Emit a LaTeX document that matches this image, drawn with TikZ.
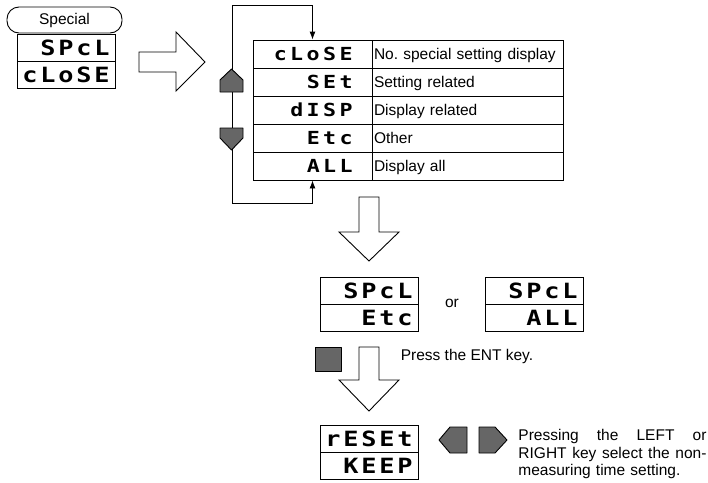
\documentclass[tikz,border=0pt]{standalone}
\usepackage{fontspec}
\setmainfont{Liberation Sans}
\newfontfamily\lcdface{DejaVu Sans Mono}[FakeStretch=1.2]
\usetikzlibrary{arrows.meta}

% one fixed slot per display digit
\newlength\lcdslot
\newcommand\lcd[1]{\lcdnext#1\relax}
\def\lcdnext#1{\ifx\relax#1\else\makebox[\lcdslot][c]{#1}\expandafter\lcdnext\fi}

\colorlet{keygray}{black!60}

\begin{document}
\frenchspacing
\begin{tikzpicture}[x=1pt,y=-1pt,line width=0.9pt,
  every node/.style={font=\fontsize{15.5}{17.5}\selectfont},
  display/.style={draw, minimum width=98pt, minimum height=27pt, inner xsep=4pt, inner ysep=0pt,
    text width=90pt, align=right, text height=15.3pt, text depth=0pt,
    font=\lcdface\bfseries\fontsize{21}{21}\selectfont\setlength\lcdslot{18pt}},
  codecell/.style={draw, minimum width=119pt, minimum height=28pt, inner sep=0pt,
    text width=84pt, align=right, text height=13.1pt, text depth=0pt,
    font=\lcdface\bfseries\fontsize{18}{18}\selectfont\setlength\lcdslot{16.5pt}},
  namecell/.style={draw, minimum width=191pt, minimum height=28pt, inner sep=0pt,
    text width=187pt, align=left, text height=12pt, text depth=2pt},
  key/.style={draw, fill=keygray, line join=round},
  hollow/.style={draw, fill=white, line join=miter}]
  \useasboundingbox (0,0) rectangle (708,482);

  % start display
  \node[draw, rounded corners=12pt, minimum width=115pt, minimum height=26pt, inner sep=0pt] (special) at (64.5,20) {Special};
  \node[display] (starta) at (66,48) {\lcd{SPcL}};
  \node[display] (startb) at (66,75) {\lcd{cLoSE}};

  \draw[hollow] (139,52) -- (176,52) -- (176,32) -- (205,62) -- (176,91) -- (176,72) -- (139,72) -- cycle;

  % choices
  \node[codecell] (c1) at (312.5,54)  {\lcd{cLoSE}};
  \node[codecell] (c2) at (312.5,82)  {\lcd{SEt}};
  \node[codecell] (c3) at (312.5,110) {\lcd{dISP}};
  \node[codecell] (c4) at (312.5,138) {\lcd{Etc}};
  \node[codecell] (c5) at (312.5,166) {\lcd{ALL}};
  \node[namecell] (n1) at (467.5,54)  {No. special setting display};
  \node[namecell] (n2) at (467.5,82)  {Setting related};
  \node[namecell] (n3) at (467.5,110) {Display related};
  \node[namecell] (n4) at (467.5,138) {Other};
  \node[namecell] (n5) at (467.5,166) {Display all};

  \draw[{Latex[length=8pt,width=6pt]}-{Latex[length=8pt,width=6pt]}] (c5.south) -- ++(0,23) -| (232,5) -| (c1.north);
  \draw[key] (220,92) -- (220,80) -- (231.5,69) -- (243,80) -- (243,92) -- cycle;
  \draw[key] (220,128) -- (243,128) -- (243,138) -- (231.5,150) -- (220,138) -- cycle;

  \draw[hollow] (359,197) -- (379,197) -- (379,232) -- (399,232) -- (369,261) -- (339,232) -- (359,232) -- cycle;

  % selected
  \node[display] (etca) at (369,290.5) {\lcd{SPcL}};
  \node[display] (etcb) at (369,317.5) {\lcd{Etc}};
  \node (or) at (452,303) {or};
  \node[display] (alla) at (534,290.5) {\lcd{SPcL}};
  \node[display] (allb) at (534,317.5) {\lcd{ALL}};

  \draw[key] (315,347) rectangle (341,371);
  \node[anchor=west] (enttext) at (397,356) {Press the ENT key.};
  \draw[hollow] (359,347) -- (379,347) -- (379,380) -- (399,380) -- (369,411) -- (339,380) -- (359,380) -- cycle;

  % time setting
  \node[display] (timea) at (369,439) {\lcd{rESEt}};
  \node[display] (timeb) at (369,466) {\lcd{KEEP}};
  \draw[key] (467,427) -- (450,427) -- (439,440) -- (450,453) -- (467,453) -- cycle;
  \draw[key] (479,427) -- (495,427) -- (507,440) -- (495,453) -- (479,453) -- cycle;
  \node[anchor=north west, text width=188pt, align=left, inner sep=0pt] (lrtext) at (518,429)
    {\leavevmode\hbox to 188pt{Pressing\hfill the\hfill LEFT\hfill or}\\
     \leavevmode\hbox to 188pt{RIGHT\hfill key\hfill select\hfill the\hfill non-}\\
     measuring time setting.};
\end{tikzpicture}
\end{document}
